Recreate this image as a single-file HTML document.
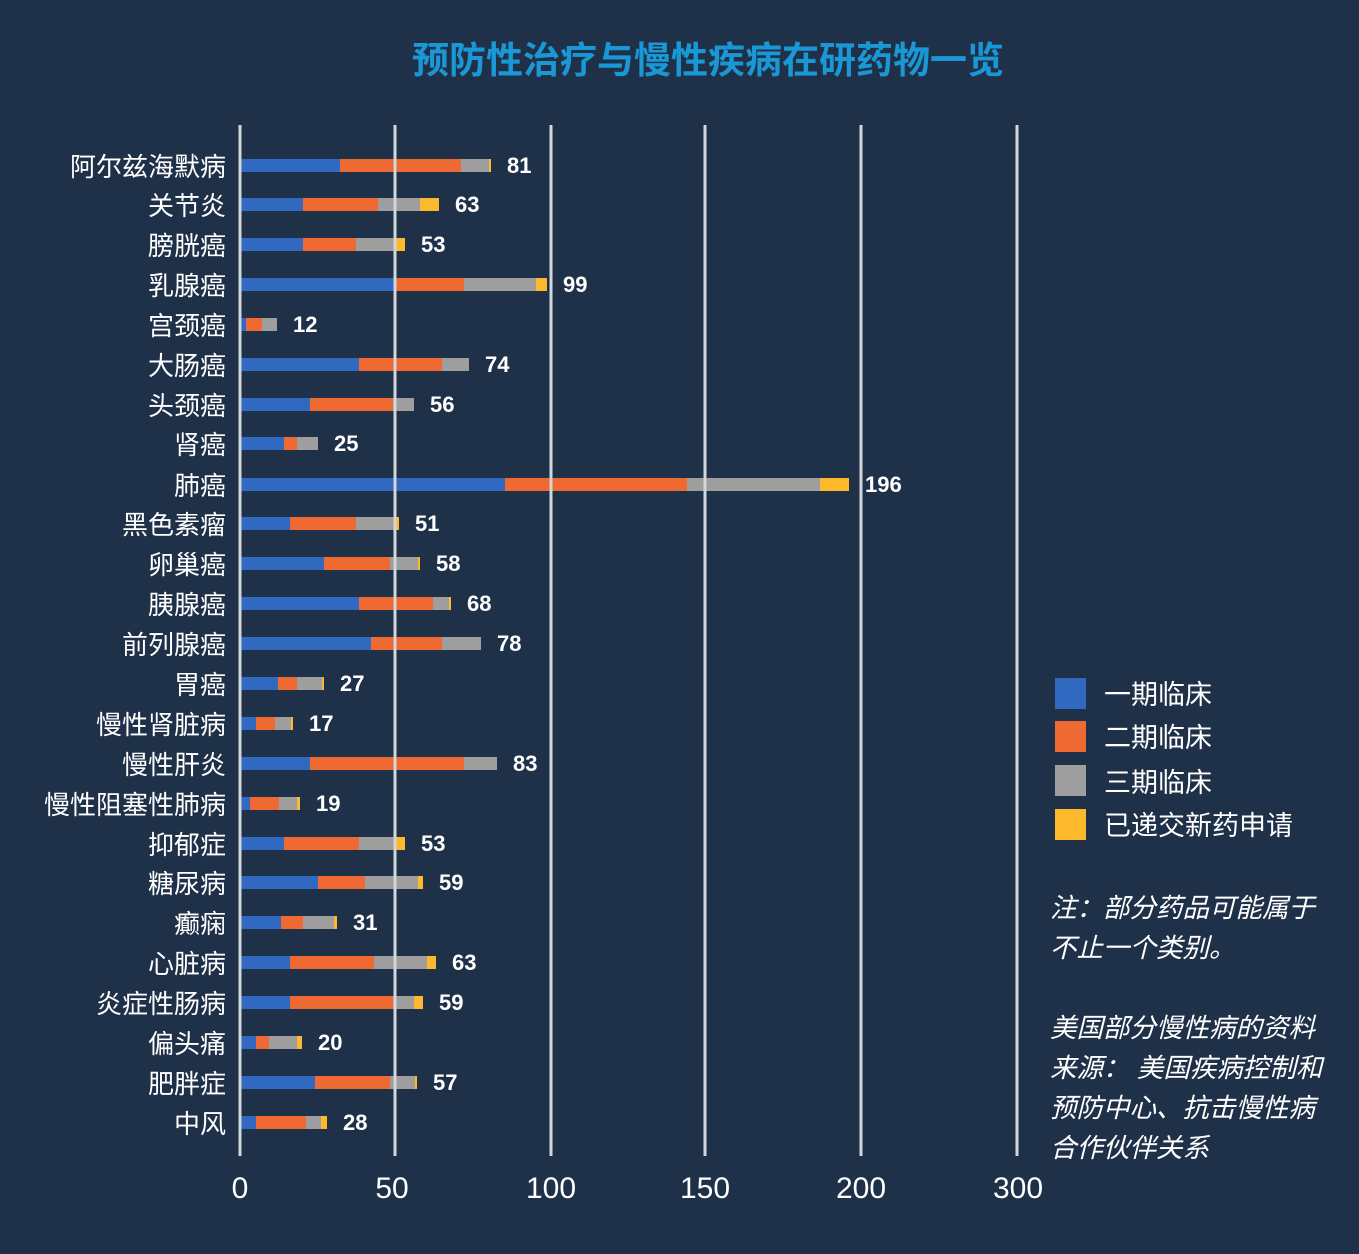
<!DOCTYPE html>
<html><head><meta charset="utf-8"><style>
html,body{margin:0;padding:0;background:#1f3149;}
svg{display:block}
text{font-family:"Liberation Sans","Noto Sans CJK SC",sans-serif;fill:#fff}
</style></head><body>
<svg width="1359" height="1254" viewBox="0 0 1359 1254" xmlns="http://www.w3.org/2000/svg">
<rect width="1359" height="1254" fill="#1f3149"/>
<text x="708" y="73" text-anchor="middle" font-size="37" font-weight="bold" style="fill:#1a98d5">预防性治疗与慢性疾病在研药物一览</text>
<g id="bars"></g>
<g id="grid" stroke="#d3d6db" stroke-width="3">
<line x1="240" y1="125" x2="240" y2="1156"/><line x1="395" y1="125" x2="395" y2="1156"/>
<line x1="551" y1="125" x2="551" y2="1156"/><line x1="705" y1="125" x2="705" y2="1156"/>
<line x1="861" y1="125" x2="861" y2="1156"/><line x1="1017" y1="125" x2="1017" y2="1156"/>
</g>
<g font-size="30" text-anchor="middle" style="font-weight:300">
<text x="240" y="1198">0</text><text x="392" y="1198">50</text><text x="551" y="1198">100</text>
<text x="705" y="1198">150</text><text x="861" y="1198">200</text><text x="1018" y="1198">300</text>
</g>
<g id="legend">
<rect x="1055" y="678" width="31" height="31" fill="#3168c0"/>
<rect x="1055" y="721" width="31" height="31" fill="#ef6a32"/>
<rect x="1055" y="765" width="31" height="31" fill="#9e9e9e"/>
<rect x="1055" y="809" width="31" height="31" fill="#fcb92c"/>
<g font-size="27"><text x="1104" y="704">一期临床</text><text x="1104" y="747">二期临床</text><text x="1104" y="792">三期临床</text><text x="1104" y="835">已递交新药申请</text></g>
</g>
<g font-size="26.5" font-style="italic">
<text x="1050" y="917">注：部分药品可能属于</text>
<text x="1050" y="957">不止一个类别。</text>
<text x="1050" y="1037">美国部分慢性病的资料</text>
<text x="1050" y="1077">来源： 美国疾病控制和</text>
<text x="1050" y="1117">预防中心、抗击慢性病</text>
<text x="1050" y="1157">合作伙伴关系</text>
</g>
<g id="labels" font-size="26" text-anchor="end"></g>
<g id="vals" font-size="22" font-weight="bold"></g>
</svg>
<script>
var d=[["阿尔兹海默病",166,[340,461,489,491],81],["关节炎",205,[303,378,420,439],63],["膀胱癌",245,[303,356,396,405],53],
["乳腺癌",285,[395,464,536,547],99],["宫颈癌",325,[246,262,277,277],12],["大肠癌",365,[359,442,469,469],74],
["头颈癌",405,[310,393,414,414],56],["肾癌",444,[284,297,318,318],25],["肺癌",485,[505,687,820,849],196],
["黑色素瘤",524,[290,356,396,399],51],["卵巢癌",564,[324,390,418,420],58],["胰腺癌",604,[359,433,449,451],68],
["前列腺癌",644,[371,442,481,481],78],["胃癌",684,[278,297,322,324],27],["慢性肾脏病",724,[256,275,291,293],17],
["慢性肝炎",764,[310,464,497,497],83],["慢性阻塞性肺病",804,[250,279,297,300],19],["抑郁症",844,[284,359,396,405],53],
["糖尿病",883,[318,365,418,423],59],["癫痫",923,[281,303,334,337],31],["心脏病",963,[290,374,427,436],63],
["炎症性肠病",1003,[290,393,414,423],59],["偏头痛",1043,[256,269,297,302],20],["肥胖症",1083,[315,390,415,417],57],
["中风",1123,[256,306,321,327],28]];
var c=["#3168c0","#ef6a32","#9e9e9e","#fcb92c"],ns="http://www.w3.org/2000/svg";
var B=document.getElementById("bars"),L=document.getElementById("labels"),V=document.getElementById("vals");
d.forEach(function(r){var x0=241;r[2].forEach(function(x,i){if(x>x0){var e=document.createElementNS(ns,"rect");
e.setAttribute("x",x0);e.setAttribute("y",r[1]-7);e.setAttribute("width",x-x0);e.setAttribute("height",13);e.setAttribute("fill",c[i]);B.appendChild(e);x0=x;}});
var t=document.createElementNS(ns,"text");t.setAttribute("x",226);t.setAttribute("y",r[1]+10);t.textContent=r[0];L.appendChild(t);
var v=document.createElementNS(ns,"text");v.setAttribute("x",r[2][3]+16);v.setAttribute("y",r[1]+7);v.textContent=r[3];V.appendChild(v);});
</script>
</body></html>
